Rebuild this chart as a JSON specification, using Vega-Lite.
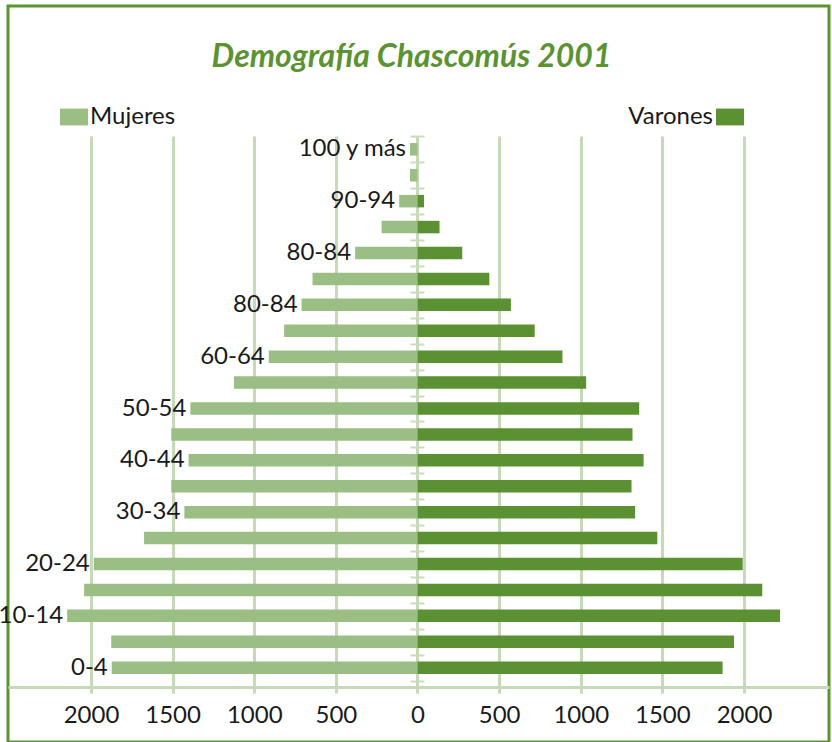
{
  "$schema": "https://vega.github.io/schema/vega-lite/v6.json",
  "autosize": "none",
  "width": 821,
  "height": 736,
  "padding": {"left": 8, "top": 6, "right": 3, "bottom": 0},
  "background": "white",
  "config": {
    "view": {"stroke": "#5B9332", "strokeWidth": 3},
    "font": "Lato"
  },
  "title": {
    "text": "Demografía Chascomús 2001",
    "font": "Lato",
    "fontSize": 32,
    "fontWeight": "bold",
    "fontStyle": "italic",
    "color": "#5B9332",
    "anchor": "middle",
    "frame": "group",
    "baseline": "alphabetic",
    "offset": -93,
    "dx": -7
  },
  "data": {
    "values": [
      {"idx": 0, "edad": "0-4", "label": "0-4", "mujeres": 1873, "varones": 1869},
      {"idx": 1, "edad": "5-9", "label": "", "mujeres": 1876, "varones": 1939},
      {"idx": 2, "edad": "10-14", "label": "10-14", "mujeres": 2146, "varones": 2221},
      {"idx": 3, "edad": "15-19", "label": "", "mujeres": 2042, "varones": 2112},
      {"idx": 4, "edad": "20-24", "label": "20-24", "mujeres": 1983, "varones": 1992},
      {"idx": 5, "edad": "25-29", "label": "", "mujeres": 1675, "varones": 1469},
      {"idx": 6, "edad": "30-34", "label": "30-34", "mujeres": 1428, "varones": 1333},
      {"idx": 7, "edad": "35-39", "label": "", "mujeres": 1508, "varones": 1311},
      {"idx": 8, "edad": "40-44", "label": "40-44", "mujeres": 1402, "varones": 1385},
      {"idx": 9, "edad": "45-49", "label": "", "mujeres": 1508, "varones": 1317},
      {"idx": 10, "edad": "50-54", "label": "50-54", "mujeres": 1391, "varones": 1358},
      {"idx": 11, "edad": "55-59", "label": "", "mujeres": 1124, "varones": 1033},
      {"idx": 12, "edad": "60-64", "label": "60-64", "mujeres": 911, "varones": 888},
      {"idx": 13, "edad": "65-69", "label": "", "mujeres": 817, "varones": 718},
      {"idx": 14, "edad": "70-74", "label": "80-84", "mujeres": 710, "varones": 572},
      {"idx": 15, "edad": "75-79", "label": "", "mujeres": 643, "varones": 440},
      {"idx": 16, "edad": "80-84", "label": "80-84", "mujeres": 382, "varones": 274},
      {"idx": 17, "edad": "85-89", "label": "", "mujeres": 220, "varones": 135},
      {"idx": 18, "edad": "90-94", "label": "90-94", "mujeres": 112, "varones": 40},
      {"idx": 19, "edad": "95-99", "label": "", "mujeres": 46, "varones": 0},
      {"idx": 20, "edad": "100 y más", "label": "100 y más", "mujeres": 46, "varones": 0}
    ]
  },
  "encoding": {
    "y": {
      "field": "idx",
      "type": "quantitative",
      "scale": {"domain": [-2.866, 25.529], "nice": false, "zero": false, "padding": 0},
      "axis": {
        "orient": "left",
        "offset": -416,
        "values": [-0.5, 0.5, 1.5, 2.5, 3.5, 4.5, 5.5, 6.5, 7.5, 8.5, 9.5, 10.5, 11.5, 12.5, 13.5, 14.5, 15.5, 16.5, 17.5, 18.5, 19.5, 20.5],
        "tickSize": 14,
        "tickWidth": 2,
        "tickColor": "#C9DCBC",
        "domain": false,
        "labels": false,
        "grid": false,
        "title": null
      }
    }
  },
  "layer": [
    {
      "mark": {"type": "bar", "orient": "horizontal", "size": 12.5},
      "encoding": {
        "x": {
          "field": "mujeres",
          "type": "quantitative",
          "scale": {"domain": [2508.4, -2520.7], "nice": false, "zero": false, "padding": 0},
          "axis": {
            "orient": "bottom",
            "offset": -55,
            "values": [-2000, -1500, -1000, -500, 0, 500, 1000, 1500, 2000],
            "labelExpr": "format(abs(datum.value), 'd')",
            "ticks": false,
            "grid": false,
            "domain": true,
            "domainColor": "#C6DAB8",
            "domainWidth": 3,
            "labelFont": "Lato",
            "labelFontSize": 24,
            "labelColor": "#1a1a1a",
            "labelPadding": 16,
            "title": null
          }
        },
        "x2": {"datum": 0},
        "color": {
          "datum": "Mujeres",
          "type": "nominal",
          "scale": {"range": ["#9BBE85"]},
          "legend": {
            "orient": "none",
            "legendX": 52,
            "legendY": 97,
            "title": null,
            "symbolType": "M-1,-0.6H1V0.6H-1Z",
            "symbolSize": 784,
            "symbolStrokeWidth": 0,
            "labelFont": "Lato",
            "labelFontSize": 24,
            "labelColor": "#1a1a1a",
            "labelOffset": 2,
            "labelLimit": 300
          }
        }
      }
    },
    {
      "mark": {"type": "bar", "orient": "horizontal", "size": 12.5},
      "encoding": {
        "x": {
          "field": "varones",
          "type": "quantitative",
          "scale": {"domain": [-2508.4, 2520.7], "nice": false, "zero": false, "padding": 0},
          "axis": {
            "orient": "bottom",
            "offset": -49,
            "values": [-2000, -1500, -1000, -500, 0, 500, 1000, 1500, 2000],
            "tickSize": -557,
            "tickWidth": 3,
            "tickColor": "#C6DAB8",
            "labels": false,
            "grid": false,
            "domain": false,
            "title": null
          }
        },
        "x2": {"datum": 0},
        "color": {
          "datum": "Varones",
          "type": "nominal",
          "scale": {"range": ["#5B9132"]},
          "legend": {
            "orient": "none",
            "legendX": 708,
            "legendY": 97,
            "title": null,
            "symbolType": "M-1,-0.6H1V0.6H-1Z",
            "symbolSize": 784,
            "symbolStrokeWidth": 0,
            "labelFont": "Lato",
            "labelFontSize": 24,
            "labelColor": "#1a1a1a",
            "labelAlign": "right",
            "labelOffset": -31,
            "labelLimit": 300
          }
        }
      }
    },
    {
      "transform": [{"filter": "datum.label != ''"}],
      "mark": {"type": "text", "align": "right", "baseline": "middle", "dx": -4, "font": "Lato", "fontSize": 24, "color": "#1a1a1a"},
      "encoding": {
        "x": {
          "field": "mujeres",
          "type": "quantitative",
          "scale": {"domain": [2508.4, -2520.7], "nice": false, "zero": false, "padding": 0},
          "axis": null
        },
        "text": {"field": "label"}
      }
    }
  ],
  "resolve": {
    "scale": {"x": "independent", "color": "independent"},
    "axis": {"x": "independent"},
    "legend": {"color": "independent"}
  }
}
